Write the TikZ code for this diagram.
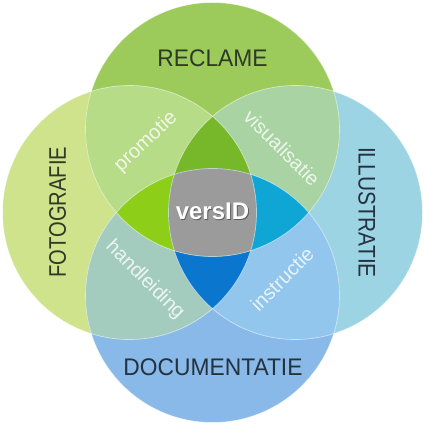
\documentclass[tikz,border=0pt]{standalone}
\usepackage{fontspec}
\setmainfont{Liberation Sans}
\definecolor{topOnly}{HTML}{9CCB5B}
\definecolor{leftOnly}{HTML}{CFE38D}
\definecolor{rightOnly}{HTML}{9DD4E4}
\definecolor{bottomOnly}{HTML}{89B9E8}
\definecolor{tlCol}{HTML}{B7DC88}
\definecolor{trCol}{HTML}{A9D3A2}
\definecolor{blCol}{HTML}{A3CCBE}
\definecolor{brCol}{HTML}{92C6EC}
\definecolor{topLens}{HTML}{76B82A}
\definecolor{leftLens}{HTML}{8DCF18}
\definecolor{rightLens}{HTML}{0FA5D5}
\definecolor{bottomLens}{HTML}{0B76CE}
\definecolor{centerCol}{HTML}{9B9B9B}
\definecolor{shadowCol}{HTML}{5E5E5E}
\definecolor{darkGreenText}{HTML}{2E3A26}
\definecolor{darkBlueText}{HTML}{24323F}
\begin{document}
\begin{tikzpicture}[x=1pt,y=1pt,
  biglabel/.style={inner sep=0pt, font=\fontsize{24}{24}\selectfont},
  smalllabel/.style={inner sep=0pt, text=white, text opacity=0.8, font=\fontsize{20}{20}\selectfont},
  ringline/.style={draw=white, draw opacity=0.55, line width=0.7pt}]
\useasboundingbox (0,0) rectangle (425,425);
\def\cT{(212.5,295.5) circle[radius=127]}
\def\cB{(212.5,129.5) circle[radius=127]}
\def\cL{(129.5,212.5) circle[radius=127]}
\def\cR{(295.5,212.5) circle[radius=127]}
% single circles
\fill[leftOnly] \cL;
\fill[rightOnly] \cR;
\fill[topOnly] \cT;
\fill[bottomOnly] \cB;
% pair overlaps
\begin{scope}\clip \cT; \fill[tlCol] \cL; \fill[trCol] \cR; \end{scope}
\begin{scope}\clip \cB; \fill[blCol] \cL; \fill[brCol] \cR; \end{scope}
% triple overlaps
\begin{scope}\clip \cT; \clip \cL; \fill[topLens] \cR; \end{scope}
\begin{scope}\clip \cB; \clip \cL; \fill[bottomLens] \cR; \end{scope}
\begin{scope}\clip \cT; \clip \cB; \fill[leftLens] \cL; \fill[rightLens] \cR; \end{scope}
% quadruple overlap
\begin{scope}\clip \cT; \clip \cB; \clip \cL; \fill[centerCol] \cR; \end{scope}
% outlines
\draw[ringline] \cT;
\draw[ringline] \cB;
\draw[ringline] \cL;
\draw[ringline] \cR;
% outer labels
\node[biglabel, text=darkGreenText] (reclame) at (212.5,367) {\scalebox{0.95}[1]{RECLAME}};
\node[biglabel, text=darkBlueText] (documentatie) at (213,57.5) {\scalebox{0.95}[1]{DOCUMENTATIE}};
\node[biglabel, text=darkGreenText, rotate=90] (fotografie) at (57.5,213) {\scalebox{0.84}[1]{FOTOGRAFIE}};
\node[biglabel, text=darkBlueText, rotate=-90] (illustratie) at (367,212.5) {\scalebox{0.87}[1]{ILLUSTRATIE}};
% inner labels
\node[smalllabel, rotate=43] (promotie) at (146,283) {promotie};
\node[smalllabel, rotate=-45] (visualisatie) at (282,277) {visualisatie};
\node[smalllabel, rotate=-45] (handleiding) at (145,145) {handleiding};
\node[smalllabel, rotate=45] (instructie) at (282,146) {instructie};
% centre label with its shadow
\node[inner sep=0pt, text=white, font=\fontsize{24}{24}\selectfont\bfseries] (versid) at (212.5,213.5)
  {\makebox[0pt][l]{\hspace{0.9pt}\raisebox{-0.9pt}{\textcolor{shadowCol}{versID}}}versID};
\end{tikzpicture}
\end{document}
